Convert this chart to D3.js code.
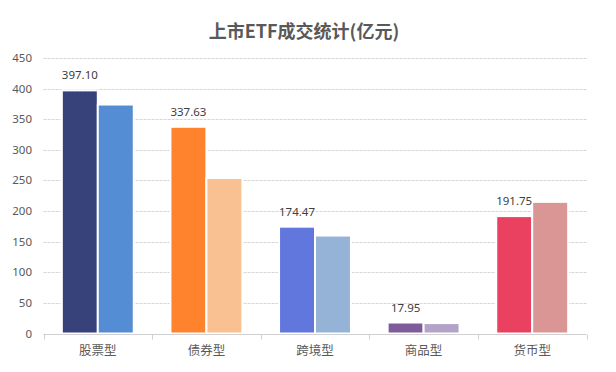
<!DOCTYPE html>
<html><head><meta charset="utf-8">
<script src="https://cdn.jsdelivr.net/npm/d3@7"></script>
<style>
html,body{margin:0;padding:0;background:#fff;}
svg{display:block;}
</style>
</head><body>
<svg id="chart" width="616" height="372"></svg>
<script>
const title = "上市ETF成交统计(亿元)";
const categories = ["股票型", "债券型", "跨境型", "商品型", "货币型"];
const series1 = [397.10, 337.63, 174.47, 17.95, 191.75];
const series2 = [374, 254, 160, 17, 215];
const labels1 = ["397.10", "337.63", "174.47", "17.95", "191.75"];
const yTicks = [0, 50, 100, 150, 200, 250, 300, 350, 400, 450];
const colors1 = ["#37427A", "#FF822C", "#6277DE", "#7E5C99", "#EA4161"];
const colors2 = ["#548DD4", "#F9C192", "#95B3D7", "#B3A3C8", "#D99694"];

const svg = d3.select("#chart");
const W = 616, H = 372;
const m = {left: 43.5, right: 29.5, top: 58, bottom: 38.5};
const plotL = m.left, plotR = W - m.right, plotT = m.top, plotB = H - m.bottom;

const x0 = d3.scaleBand().domain(categories).range([plotL, plotR]).padding(0);
const x1 = d3.scaleBand().domain([0, 1]).range([0, x0.bandwidth()]).paddingInner(0).paddingOuter(0.51);
const y = d3.scaleLinear().domain([0, 450]).range([plotB, plotT]);

const fontNum = "'Noto Sans', 'Noto Sans CJK SC', sans-serif";
const fontCJK = "'Noto Sans CJK SC', 'Noto Sans', sans-serif";

// title
svg.append("text").attr("x", 304).attr("y", 38)
  .attr("text-anchor", "middle").attr("font-family", fontCJK)
  .attr("font-size", 18).attr("font-weight", "bold").attr("fill", "#595959")
  .text(title);

// gridlines
svg.append("g").selectAll("line").data(yTicks.filter(d => d > 0)).join("line")
  .attr("x1", plotL).attr("x2", plotR)
  .attr("y1", d => Math.round(y(d)) + 0.5).attr("y2", d => Math.round(y(d)) + 0.5)
  .attr("stroke", "#d6d6d6").attr("stroke-width", 1).attr("stroke-dasharray", "3,1");

// y labels
svg.append("g").selectAll("text").data(yTicks).join("text")
  .attr("x", 32).attr("y", d => y(d)).attr("dy", "0.35em")
  .attr("text-anchor", "end").attr("font-family", fontNum).attr("font-size", 11.5)
  .attr("fill", "#595959").text(d => d);

// bars
const groups = svg.append("g").selectAll("g").data(categories).join("g")
  .attr("transform", d => `translate(${x0(d)},0)`);
groups.append("rect")
  .attr("x", x1(0)).attr("width", x1.bandwidth())
  .attr("y", (d, i) => y(series1[i])).attr("height", (d, i) => y(0) - y(series1[i]))
  .attr("fill", (d, i) => colors1[i]).attr("stroke", "#fff").attr("stroke-width", 2);
groups.append("rect")
  .attr("x", x1(1)).attr("width", x1.bandwidth())
  .attr("y", (d, i) => y(series2[i])).attr("height", (d, i) => y(0) - y(series2[i]))
  .attr("fill", (d, i) => colors2[i]).attr("stroke", "#fff").attr("stroke-width", 2);
groups.append("text")
  .attr("x", x1(0) + x1.bandwidth() / 2)
  .attr("y", (d, i) => y(series1[i]) - 11)
  .attr("text-anchor", "middle").attr("font-family", fontNum).attr("font-size", 11.5)
  .attr("fill", "#404040").text((d, i) => labels1[i]);

// x axis
const axisY = Math.round(y(0)) + 0.5;
svg.append("line").attr("x1", plotL).attr("x2", plotR).attr("y1", axisY).attr("y2", axisY)
  .attr("stroke", "#d0d0d0").attr("stroke-width", 1);
const bounds = categories.map(c => x0(c)).concat([plotR]);
svg.append("g").selectAll("line").data(bounds).join("line")
  .attr("x1", d => Math.round(d) + 0.5).attr("x2", d => Math.round(d) + 0.5)
  .attr("y1", axisY).attr("y2", axisY + 5)
  .attr("stroke", "#d0d0d0").attr("stroke-width", 1);
svg.append("g").selectAll("text").data(categories).join("text")
  .attr("x", d => x0(d) + x0.bandwidth() / 2).attr("y", 355)
  .attr("text-anchor", "middle").attr("font-family", fontCJK).attr("font-size", 12.5)
  .attr("fill", "#595959").text(d => d);
</script>
</body></html>
